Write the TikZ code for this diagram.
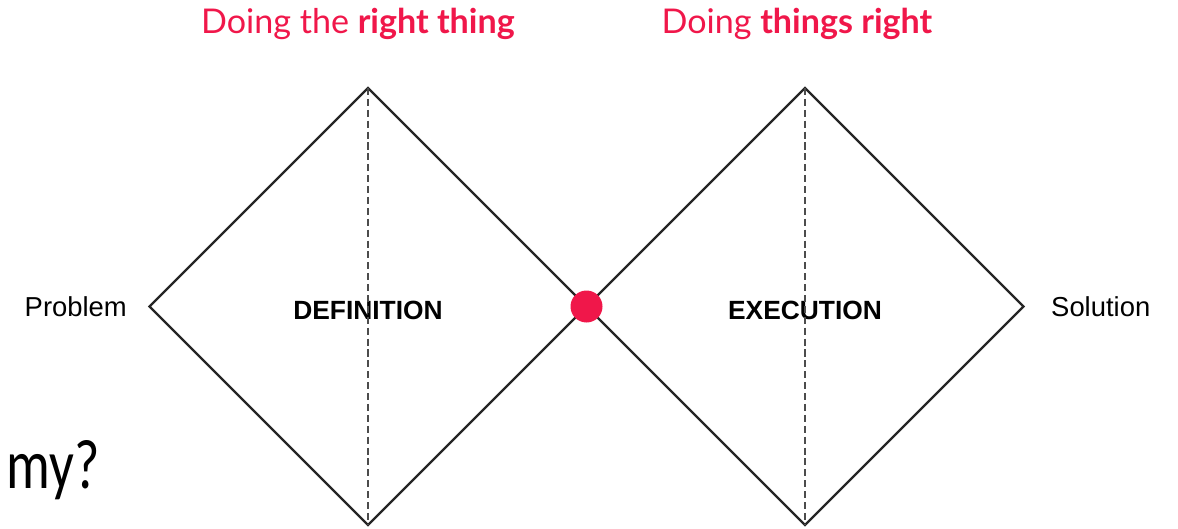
\documentclass[tikz,border=0pt]{standalone}
\usepackage{fontspec}
\setmainfont{Liberation Sans}
\newfontfamily\headfont{Lato}
\newfontfamily\slidefont{Carlito}
\usepackage{tikz}
\usetikzlibrary{positioning, shapes.geometric}
\definecolor{accent}{HTML}{F0174A}

\begin{document}
\begin{tikzpicture}[node distance=0.22cm,
    phase/.style={diamond, draw=black!85, line width=0.65pt, aspect=1, minimum width=4.37cm, minimum height=4.37cm, inner sep=0pt, outer sep=0pt, text height=7.6pt, text depth=0pt, font=\bfseries\fontsize{7.5}{9}\selectfont},
    side/.style={inner sep=0pt, font=\fontsize{7.8}{9}\selectfont},
    head/.style={inner sep=0pt, text=accent, font=\headfont\fontsize{9.7}{11}\selectfont},
    axis/.style={draw=black!70, dash pattern=on 2pt off 1.1pt, line width=0.7pt},
    dot/.style={circle, fill=accent, inner sep=0pt, minimum size=0.32cm}]
            \useasboundingbox (0,0) rectangle (11.78,5.28);

            \node[phase] (def) at (3.68,2.215) {DEFINITION};
            \node[phase, right=0cm of def] (exe) {EXECUTION};

            \draw[axis] (def.north) -- (def.south);
            \draw[axis] (exe.north) -- (exe.south);

            \node[dot] (meet) at (def.east) {};

            \node[side, left=of def] (problem) {Problem};
            \node[side, right=0.27cm of exe] (solution) {Solution};

            \node[head, anchor=base] (rightthing) at ([xshift=-0.1cm, yshift=0.54cm]def.north) {Doing the \textbf{right thing}};
            \node[head, anchor=base] (thingsright) at ([xshift=-0.08cm, yshift=0.54cm]exe.north) {Doing \textbf{things right}};

            \node[anchor=base west, inner sep=0pt, xscale=0.78, transform shape, font=\slidefont\fontsize{20}{24}\selectfont] (question) at (0.06,0.40) {my?};
        \end{tikzpicture}
\end{document}
